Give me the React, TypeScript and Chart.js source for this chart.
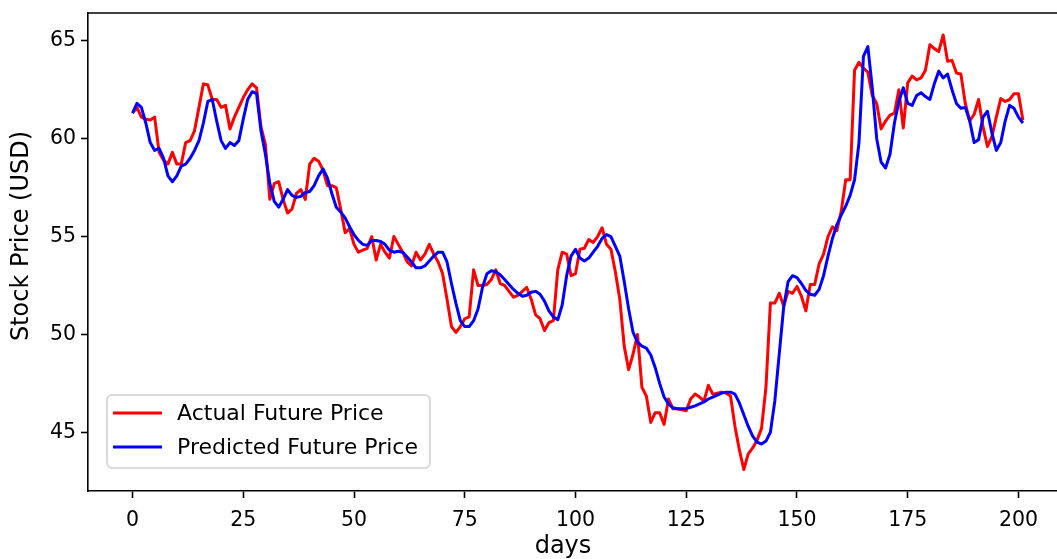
import React, { useEffect, useRef } from "react";
import { Chart, registerables } from "chart.js";

Chart.register(...registerables);

const actualPrice: number[] = [
  61.3, 61.6, 61.1, 61.0, 60.95, 61.1, 59.3, 58.9, 58.7, 59.3,
  58.7, 58.7, 59.8, 59.9, 60.4, 61.6, 62.8, 62.75, 62.0, 62.0,
  61.6, 61.7, 60.5, 61.1, 61.6, 62.1, 62.5, 62.8, 62.6, 60.6,
  59.7, 56.9, 57.7, 57.8, 56.9, 56.2, 56.4, 57.2, 57.4, 56.9,
  58.7, 59.0, 58.85, 58.4, 57.6, 57.6, 57.5, 56.4, 55.2, 55.4,
  54.6, 54.2, 54.3, 54.4, 55.0, 53.8, 54.6, 54.2, 53.9, 55.0,
  54.6, 54.2, 53.7, 53.5, 54.2, 53.8, 54.1, 54.6, 54.1, 53.7,
  53.1, 51.8, 50.4, 50.1, 50.4, 50.8, 50.9, 53.3, 52.5, 52.5,
  52.55, 52.8, 53.3, 52.6, 52.5, 52.2, 51.9, 52.0, 52.2, 52.4,
  51.8, 51.0, 50.8, 50.2, 50.6, 50.7, 53.3, 54.2, 54.1, 53.0,
  53.1, 54.35, 54.4, 54.85, 54.7, 55.0, 55.45, 54.6, 54.35, 53.2,
  51.8, 49.4, 48.2, 49.0, 50.0, 47.3, 46.85, 45.5, 46.0, 46.0,
  45.4, 46.7, 46.2, 46.2, 46.15, 46.1, 46.7, 46.95, 46.8, 46.6,
  47.4, 46.95, 47.0, 47.05, 47.0, 46.85, 45.3, 44.1, 43.1, 43.9,
  44.2, 44.6, 45.2, 47.3, 51.6, 51.6, 52.1, 51.45, 52.2, 52.1,
  52.45, 51.95, 51.2, 52.55, 52.55, 53.6, 54.1, 55.0, 55.5, 55.3,
  56.3, 57.9, 57.9, 63.5, 63.9, 63.6, 63.4, 62.2, 61.8, 60.5,
  60.9, 61.2, 61.3, 62.5, 60.55, 62.85, 63.2, 63.0, 63.1, 63.5,
  64.8, 64.6, 64.45, 65.3, 63.95, 64.0, 63.35, 63.3, 61.8, 60.9,
  61.25, 62.0, 60.6, 59.6, 60.1, 61.1, 62.05, 61.9, 62.0, 62.3,
  62.3, 60.95,
];

const predictedPrice: number[] = [
  61.3, 61.8, 61.6, 60.8, 59.8, 59.4, 59.5, 59.0, 58.1, 57.8,
  58.1, 58.6, 58.7, 59.0, 59.4, 59.9, 60.8, 61.9, 62.0, 60.9,
  59.9, 59.5, 59.8, 59.65, 59.9, 61.0, 62.0, 62.4, 62.3, 60.4,
  59.2, 57.7, 56.8, 56.5, 56.9, 57.4, 57.1, 57.0, 57.05, 57.25,
  57.3, 57.6, 58.1, 58.45, 58.0, 57.2, 56.5, 56.25, 55.95, 55.5,
  55.1, 54.8, 54.6, 54.55, 54.8, 54.8, 54.75, 54.6, 54.3, 54.2,
  54.25, 54.2, 53.95, 53.7, 53.4, 53.4, 53.5, 53.75, 54.0, 54.2,
  54.2, 53.7, 52.6, 51.6, 50.7, 50.4, 50.4, 50.7, 51.3, 52.4,
  53.1, 53.25, 53.2, 53.05, 52.8, 52.55, 52.3, 52.1, 51.95, 52.0,
  52.15, 52.2, 52.05, 51.7, 51.2, 50.9, 50.75, 51.5, 53.0, 54.0,
  54.35, 53.9, 53.75, 53.9, 54.2, 54.5, 54.9, 55.1, 55.0, 54.5,
  54.0, 52.7, 51.3, 50.1, 49.6, 49.4, 49.3, 48.95, 48.3, 47.5,
  46.8, 46.45, 46.25, 46.2, 46.2, 46.22, 46.28, 46.35, 46.45, 46.55,
  46.7, 46.8, 46.9, 47.0, 47.05, 47.05, 46.95, 46.5, 45.9, 45.3,
  44.8, 44.5, 44.4, 44.55, 45.0, 46.6, 49.0, 51.4, 52.7, 53.0,
  52.9, 52.6, 52.25, 52.05, 52.0, 52.3, 53.0, 54.0, 54.9, 55.6,
  56.1, 56.55, 57.1, 57.9, 59.8, 64.2, 64.7, 62.6, 60.0, 58.8,
  58.5, 59.2, 60.8, 61.9, 62.6, 61.8, 61.7, 62.2, 62.35, 62.15,
  62.0, 62.8, 63.45, 63.1, 63.3, 62.5, 61.8, 61.55, 61.6, 60.9,
  59.8, 59.95, 61.1, 61.4, 60.3, 59.4, 59.8, 60.9, 61.7, 61.55,
  61.1, 60.8,
];

const xTicks: number[] = [0, 25, 50, 75, 100, 125, 150, 175, 200];
const yTicks: number[] = [45, 50, 55, 60, 65];
const seriesLabels: string[] = ["Actual Future Price", "Predicted Future Price"];
const xTitle = "days";
const yTitle = "Stock Price (USD)";

const FONT = "'DejaVu Sans', sans-serif";

const framePlugin = {
  id: "frameAndLegend",
  afterDraw(chart: any) {
    const { ctx, chartArea } = chart;
    ctx.save();
    // top spine
    ctx.strokeStyle = "#000";
    ctx.lineWidth = 1.6;
    ctx.beginPath();
    ctx.moveTo(chartArea.left, chartArea.top);
    ctx.lineTo(chartArea.right, chartArea.top);
    ctx.stroke();

    // axis titles
    ctx.fillStyle = "#000";
    ctx.font = `24px ${FONT}`;
    ctx.textAlign = "center";
    ctx.textBaseline = "middle";
    ctx.fillText(xTitle, 563, 547);
    ctx.save();
    ctx.translate(22, 236);
    ctx.rotate(-Math.PI / 2);
    ctx.fillText(yTitle, 0, 0);
    ctx.restore();

    // legend (lower left, inside axes)
    const bx = chartArea.left + 19;
    const by = chartArea.bottom - 96;
    const bw = 323;
    const bh = 73;
    ctx.beginPath();
    ctx.roundRect(bx, by, bw, bh, 5);
    ctx.fillStyle = "rgba(255,255,255,0.8)";
    ctx.fill();
    ctx.strokeStyle = "#d0d0d0";
    ctx.lineWidth = 1.5;
    ctx.stroke();

    const ds = chart.data.datasets;
    ctx.font = `22px ${FONT}`;
    ctx.textBaseline = "middle";
    ctx.textAlign = "left";
    for (let k = 0; k < ds.length; k++) {
      const y = by + 18 + k * 34;
      ctx.strokeStyle = ds[k].borderColor;
      ctx.lineWidth = 3;
      ctx.beginPath();
      ctx.moveTo(bx + 6, y);
      ctx.lineTo(bx + 55, y);
      ctx.stroke();
      ctx.fillStyle = "#000";
      ctx.fillText(ds[k].label, bx + 70, y + 1);
    }
    ctx.restore();
  },
};

export default function App() {
  const canvasRef = useRef<HTMLCanvasElement | null>(null);

  useEffect(() => {
    if (!canvasRef.current) return;
    const chart = new Chart(canvasRef.current, {
      type: "line",
      data: {
        datasets: [
          {
            label: seriesLabels[0],
            data: actualPrice.map((v, i) => ({ x: i, y: v })),
            borderColor: "#ff0000",
            backgroundColor: "#ff0000",
            borderWidth: 3,
            pointRadius: 0,
            tension: 0,
            borderJoinStyle: "round",
            order: 1,
          },
          {
            label: seriesLabels[1],
            data: predictedPrice.map((v, i) => ({ x: i, y: v })),
            borderColor: "#0000ff",
            backgroundColor: "#0000ff",
            borderWidth: 3,
            pointRadius: 0,
            tension: 0,
            borderJoinStyle: "round",
            order: 0,
          },
        ],
      },
      options: {
        animation: false,
        responsive: false,
        maintainAspectRatio: false,
        layout: { padding: { top: 13, left: 0, right: 0, bottom: 0 } },
        plugins: {
          legend: { display: false },
          tooltip: { enabled: false },
          title: { display: false },
        },
        scales: {
          x: {
            type: "linear",
            min: -10.05,
            max: 208.7,
            afterBuildTicks: (scale: any) => {
              scale.ticks = xTicks.map((v) => ({ value: v }));
            },
            afterFit: (scale: any) => {
              scale.height = 68;
              scale.paddingLeft = 0;
              scale.paddingRight = 0;
            },
            grid: {
              drawOnChartArea: false,
              drawTicks: true,
              tickLength: 7,
              tickWidth: 1.6,
              tickColor: "#000",
            },
            border: { display: true, color: "#000", width: 1.6 },
            ticks: {
              color: "#000",
              font: { family: FONT, size: 20.5 },
              padding: 10,
              maxRotation: 0,
            },
            title: { display: false },
          },
          y: {
            type: "linear",
            min: 42.0,
            max: 66.42,
            afterBuildTicks: (scale: any) => {
              scale.ticks = yTicks.map((v) => ({ value: v }));
            },
            afterFit: (scale: any) => {
              scale.width = 88;
              scale.paddingTop = 0;
              scale.paddingBottom = 0;
            },
            grid: {
              drawOnChartArea: false,
              drawTicks: true,
              tickLength: 7,
              tickWidth: 1.6,
              tickColor: "#000",
            },
            border: { display: true, color: "#000", width: 1.6 },
            ticks: {
              color: "#000",
              font: { family: FONT, size: 20.5 },
              padding: 5,
            },
            title: { display: false },
          },
        },
      },
      plugins: [framePlugin],
    });
    return () => chart.destroy();
  }, []);

  return (
    <div style={{ position: "fixed", left: 0, top: 0, width: 1057, height: 559, background: "#fff" }}>
      <canvas ref={canvasRef} width={1057} height={559} style={{ display: "block", width: 1057, height: 559 }} />
    </div>
  );
}
